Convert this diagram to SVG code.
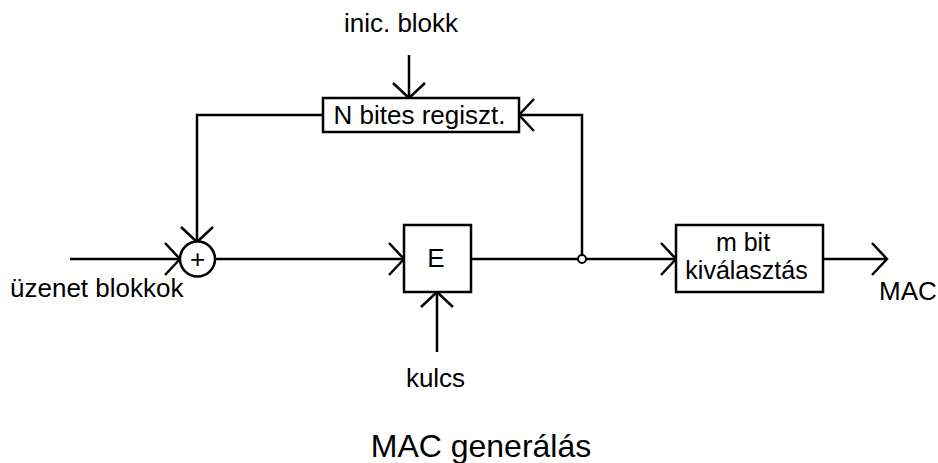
<svg xmlns="http://www.w3.org/2000/svg" width="938" height="463" viewBox="0 0 938 463">
<style>
.ln{fill:none;stroke:#000;stroke-width:2.5;}
.bx{fill:#fff;stroke:#000;stroke-width:2.5;}
text{font-family:"Liberation Sans",Arial,sans-serif;fill:#000;}
.t{font-size:26px;}
.s{font-size:25px;}
</style>
<defs>
<marker id="arr" markerUnits="userSpaceOnUse" orient="auto" refX="0" refY="0" markerWidth="40" markerHeight="40" viewBox="-20 -20 40 40" overflow="visible">
<path d="M-15,-16 L0,0 L-15,16" fill="none" stroke="#000" stroke-width="2.5"/>
</marker>
</defs>
<rect width="938" height="463" fill="#fff"/>
<g id="connectors">
<path class="ln" d="M70,259 H180" marker-end="url(#arr)"/>
<path class="ln" d="M215,259 H404" marker-end="url(#arr)"/>
<path class="ln" d="M471,259 H578"/>
<path class="ln" d="M586,259 H676" marker-end="url(#arr)"/>
<path class="ln" d="M582,255 V115 H519" marker-end="url(#arr)"/>
<path class="ln" d="M323,115 H197 V242" marker-end="url(#arr)"/>
<path class="ln" d="M409,55 V98" marker-end="url(#arr)"/>
<path class="ln" d="M437,352 V292" marker-end="url(#arr)"/>
<path class="ln" d="M823,259 H887" marker-end="url(#arr)"/>
<circle cx="582" cy="259" r="4" fill="#fff" stroke="#000" stroke-width="2"/>
</g>
<g id="adder">
<circle cx="197.5" cy="259" r="17.5" class="bx"/>
<text x="197.5" y="268" class="t" text-anchor="middle">+</text>
</g>
<g id="register">
<rect x="323" y="98" width="196" height="34" class="bx"/>
<text x="419.5" y="124" class="t" text-anchor="middle">N bites regiszt.</text>
</g>
<g id="encrypt">
<rect x="404" y="225" width="67" height="67" class="bx"/>
<text x="436" y="267" class="t" text-anchor="middle">E</text>
</g>
<g id="select">
<rect x="676" y="225" width="147" height="67" class="bx"/>
<text x="743" y="251" class="s" text-anchor="middle">m bit</text>
<text x="746.5" y="279" class="s" text-anchor="middle">kiválasztás</text>
</g>
<g id="labels">
<text x="401" y="32" class="t" text-anchor="middle">inic. blokk</text>
<text x="10" y="297" class="t">üzenet blokkok</text>
<text x="435.5" y="387" class="t" text-anchor="middle">kulcs</text>
<text x="879" y="300" class="t">MAC</text>
<text x="481" y="457" font-size="32" text-anchor="middle">MAC generálás</text>
</g>
</svg>
